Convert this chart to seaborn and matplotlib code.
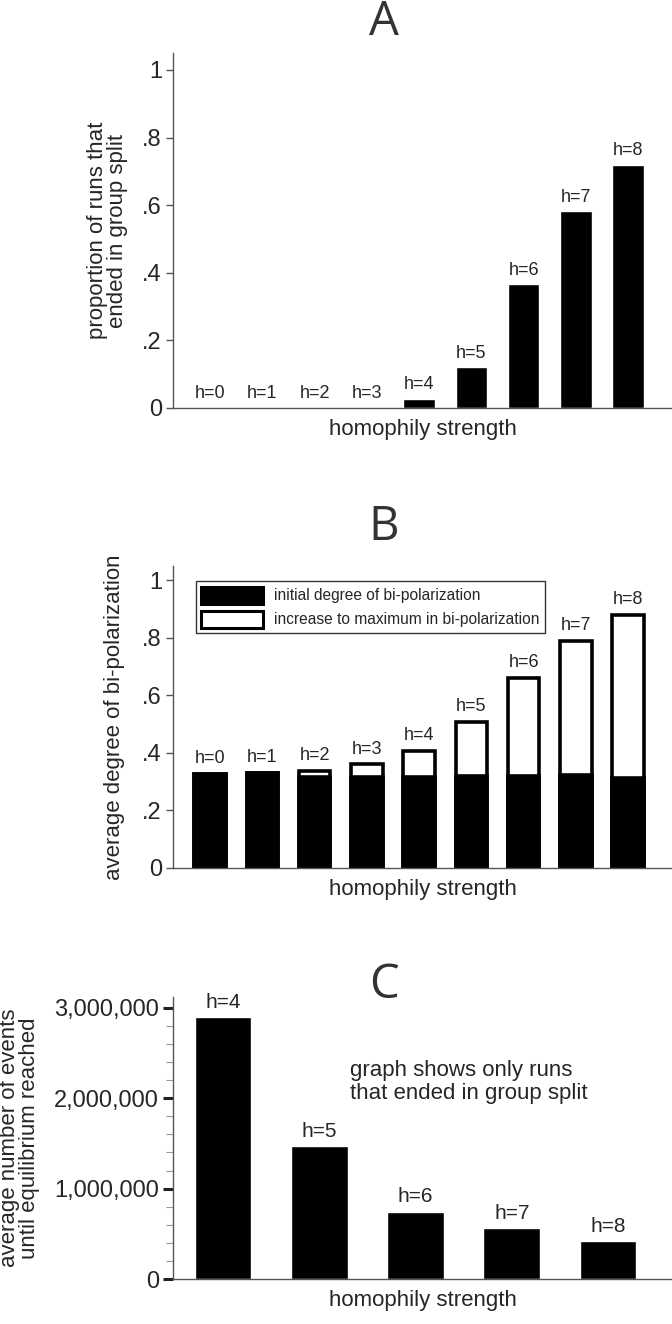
import pandas as pd
import matplotlib
matplotlib.use("Agg")
import matplotlib.pyplot as plt
import matplotlib.ticker as mticker
from matplotlib.patches import Patch
import seaborn as sns

# data
h_all = [0, 1, 2, 3, 4, 5, 6, 7, 8]
split_share = [0.0, 0.0, 0.0, 0.002, 0.027, 0.12, 0.366, 0.582, 0.72]

bipol_initial = [0.327, 0.330, 0.316, 0.317, 0.316, 0.321, 0.319, 0.324, 0.314]
bipol_max = [0.327, 0.330, 0.337, 0.360, 0.407, 0.507, 0.660, 0.790, 0.880]

h_split = [4, 5, 6, 7, 8]
events_to_eq = [2894000, 1468000, 746000, 560000, 419000]

prop_ticks = [0, 0.2, 0.4, 0.6, 0.8, 1.0]
prop_ticklabels = ["0", ".2", ".4", ".6", ".8", "1"]
event_ticks = [0, 1000000, 2000000, 3000000]

sns.set_theme(style="white")
plt.rcParams['font.family'] = ['Liberation Sans Narrow', 'DejaVu Sans Condensed',
                               'Liberation Sans', 'DejaVu Sans']
plt.rcParams['axes.edgecolor'] = '#555555'
plt.rcParams['axes.linewidth'] = 1.0

W, H = 672, 1324
fig = plt.figure(figsize=(W / 100, H / 100), dpi=100)


def box(left, top, right, bottom):
    return [left / W, 1 - bottom / H, (right - left) / W, (bottom - top) / H]


def style_axis(ax):
    sns.despine(ax=ax)
    ax.spines['left'].set_color('#555555')
    ax.spines['bottom'].set_color('#555555')
    ax.tick_params(axis='y', which='major', left=True, length=5, width=1,
                   color='#555555', labelsize=17, pad=3)
    ax.tick_params(axis='x', bottom=False, labelbottom=False)
    ax.set_xlabel("homophily strength", fontsize=16, labelpad=8)


# ---- A ----
dfa = pd.DataFrame({'h': [f"h={h}" for h in h_all], 'share': split_share})
axA = fig.add_axes(box(173, 53, 672, 408))
sns.barplot(data=dfa, x='h', y='share', color='black', saturation=1, width=0.6, ax=axA)
axA.bar_label(axA.containers[0], labels=dfa['h'], padding=4, fontsize=13)
axA.set_xlim(-0.71, 8.84)
axA.set_ylim(0, 1.05)
axA.set_yticks(prop_ticks, prop_ticklabels)
axA.set_ylabel("proportion of runs that\nended in group split", fontsize=16, labelpad=10,
               linespacing=0.95)
style_axis(axA)

# ---- B ----
dfb = pd.DataFrame({'h': [f"h={h}" for h in h_all], 'initial': bipol_initial, 'maximum': bipol_max})
axB = fig.add_axes(box(173, 566, 672, 868))
sns.barplot(data=dfb, x='h', y='maximum', color='white', edgecolor='black', linewidth=2.6,
            saturation=1, width=0.6, ax=axB)
sns.barplot(data=dfb, x='h', y='initial', color='black', edgecolor='black', linewidth=2.6,
            saturation=1, width=0.6, ax=axB)
axB.bar_label(axB.containers[0], labels=dfb['h'], padding=5, fontsize=13)
axB.set_xlim(-0.71, 8.84)
axB.set_ylim(0, 1.05)
axB.set_yticks(prop_ticks, prop_ticklabels)
axB.set_ylabel("average degree of bi-polarization", fontsize=16, labelpad=12)
style_axis(axB)
handles = [Patch(facecolor='black', edgecolor='black', linewidth=2.2),
           Patch(facecolor='white', edgecolor='black', linewidth=2.2)]
leg = axB.legend(handles, ["initial degree of bi-polarization",
                           "increase to maximum in bi-polarization"],
                 loc='upper left', bbox_to_anchor=(0.03, 0.975), fontsize=11.2,
                 frameon=True, fancybox=False, edgecolor='#333333', framealpha=1,
                 handlelength=4.0, handleheight=1.3, handletextpad=0.7,
                 borderpad=0.35, labelspacing=0.45)
leg.get_frame().set_linewidth(1.0)

# ---- C ----
dfc = pd.DataFrame({'h': [f"h={h}" for h in h_split], 'events': events_to_eq})
axC = fig.add_axes(box(173, 997, 672, 1279))
sns.barplot(data=dfc, x='h', y='events', color='black', saturation=1, width=0.59, ax=axC)
axC.bar_label(axC.containers[0], labels=dfc['h'], padding=4, fontsize=15)
axC.set_xlim(-0.52, 4.665)
axC.set_ylim(0, 3120000)
axC.set_yticks(event_ticks)
axC.yaxis.set_major_formatter(mticker.FuncFormatter(lambda v, p: f"{int(v):,}"))
axC.yaxis.set_minor_locator(mticker.MultipleLocator(200000))
style_axis(axC)
axC.tick_params(axis='y', which='major', length=7, width=2.2, color='#222222')
axC.tick_params(axis='y', which='minor', left=True, length=5, width=0.8, color='#999999')
axC.set_ylabel("average number of events\nuntil equilibrium reached", fontsize=16,
               labelpad=10, linespacing=0.95)
axC.text(0.355, 0.775, "graph shows only runs\nthat ended in group split", transform=axC.transAxes,
         fontsize=16, va='top', ha='left', linespacing=1.1)

# panel letters
for letter, y in [("A", 22), ("B", 527), ("C", 985)]:
    fig.text(384 / W, 1 - y / H, letter, fontsize=34, ha='center', va='center',
             color='#333333', family=['Open Sans', 'DejaVu Sans'])

fig.savefig("out.png", dpi=100)
